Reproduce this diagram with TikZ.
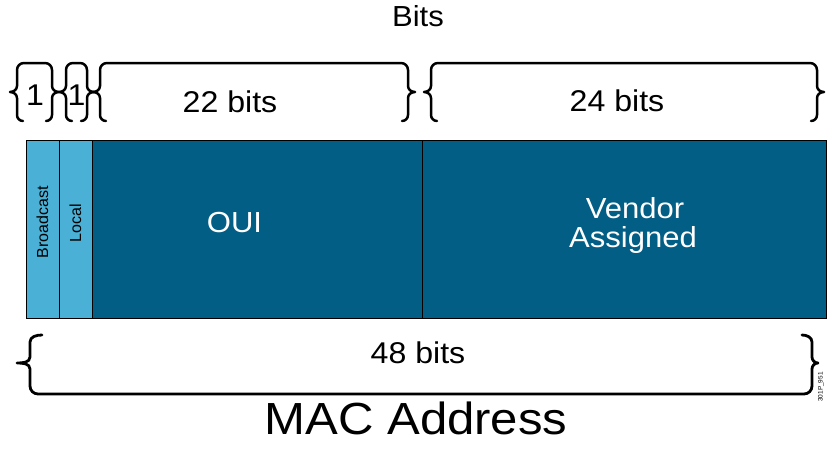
\documentclass[tikz,border=0pt]{standalone}
\usepackage{fontspec}
\setmainfont{Liberation Sans}
\definecolor{lb}{RGB}{74,176,214}
\definecolor{db}{RGB}{2,94,133}
\tikzset{
  braceline/.style={line width=2.5pt, line join=round, line cap=round},
  lbl/.style={inner sep=0pt, anchor=base, xscale=1.07, font=\fontsize{30}{34}\selectfont},
  field/.style={draw=black, line width=1.4pt, inner sep=0pt, anchor=north west, minimum height=178pt},
}
% top brace: left vertical x, right vertical x
\newcommand\topbrace[2]{%
  \draw[braceline] (#1+6,121) to[out=180,in=-90] (#1,115) -- (#1,98)
    to[out=90,in=0] (#1-7,92) to[out=0,in=-90] (#1,86) -- (#1,70)
    to[out=90,in=180] (#1+7,63) -- (#2-7,63) to[out=0,in=90] (#2,70)
    -- (#2,86) to[out=-90,in=180] (#2+7,92) to[out=180,in=90] (#2,98)
    -- (#2,115) to[out=-90,in=0] (#2-6,121);}
\begin{document}
\begin{tikzpicture}[x=1pt,y=-1pt]
\useasboundingbox (0,0) rectangle (839,458);

% title
\node[lbl, font=\fontsize{29}{32}\selectfont] (bits) at (418,26.5) {Bits};

% top braces
\topbrace{17}{52}
\topbrace{66}{87}
\topbrace{100}{408}
\topbrace{431}{817}
\node[lbl] (one1) at (35,105) {1};
\node[lbl] (one2) at (76.5,105) {1};
\node[lbl] (b22) at (230,112) {22 bits};
\node[lbl] (b24) at (617,111) {24 bits};

% fields
\node[field, fill=lb, minimum width=33pt] (bc) at (26,140) {};
\node[field, fill=lb, minimum width=33pt] (loc) at (59,140) {};
\node[field, fill=db, minimum width=330pt] (oui) at (92,140) {};
\node[field, fill=db, minimum width=404pt] (ven) at (422,140) {};
\node[rotate=90, inner sep=0pt, font=\fontsize{16}{18}\selectfont] at (42.5,222) {Broadcast};
\node[rotate=90, inner sep=0pt, font=\fontsize{16}{18}\selectfont] at (75.5,223) {Local};
\node[lbl, text=white, font=\fontsize{29}{32}\selectfont] (ouit) at (234.5,232.5) {OUI};
\node[lbl, text=white, font=\fontsize{29}{32}\selectfont] (vt1) at (635,218.5) {Vendor};
\node[lbl, text=white, font=\fontsize{29}{32}\selectfont] (vt2) at (633,247.5) {Assigned};

% bottom brace
\draw[braceline, line width=2.8pt] (42,335) to[out=180,in=90] (30,342) -- (30,357)
  to[out=-90,in=0] (17,363) to[out=0,in=90] (30,369) -- (30,386)
  to[out=-90,in=180] (38,394) -- (804,394) to[out=0,in=-90] (812,386)
  -- (812,369) to[out=90,in=180] (818,363) to[out=180,in=-90] (812,357)
  -- (812,342) to[out=90,in=0] (802,335);
\node[lbl] (b48) at (418,363.5) {48 bits};

\node[lbl, xscale=1.02, font=\fontsize{45}{50}\selectfont] (mac) at (416,434) {MAC Address};
\node[rotate=90, inner sep=0pt, font=\fontsize{6.5}{7}\selectfont] (code) at (821,387) {301P\_951};
\end{tikzpicture}
\end{document}
